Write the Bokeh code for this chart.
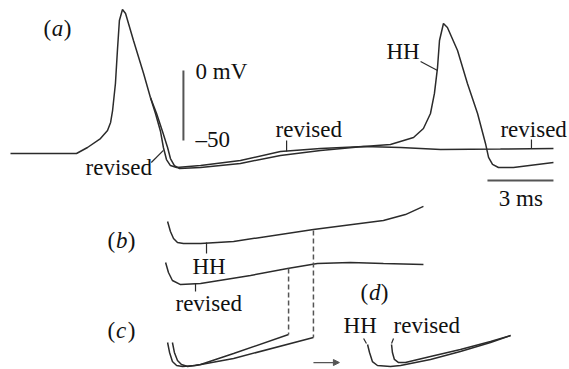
from bokeh.plotting import figure
from bokeh.models import Range1d, ColumnDataSource, Arrow, NormalHead
from bokeh.embed import file_html
from bokeh.resources import INLINE

# ---------------- data (time in ms, membrane potential in mV) ----------------
# panel (a): shared upstroke of the first spike
shared_t = [0, 3.0, 3.5, 4.09, 4.41, 4.55, 4.64, 4.77, 4.86, 4.95, 5.09, 5.23, 5.59, 6.05, 6.36]
shared_v = [-59.3, -59.3, -55.0, -48.6, -42.9, -37.1, -28.6, -9.3, 14.3, 35.7, 43.6, 40.7, 21.4, -2.1, -19.3]

# panel (a): revised model after the first spike
rev_t = [6.59, 6.82, 6.95, 7.09, 7.27, 7.55, 8.64, 10.45, 12.27, 14.09, 16.05, 17.73, 19.55, 22.27, 24.68]
rev_v = [-30.7, -43.6, -55.0, -63.6, -67.9, -69.3, -67.9, -64.3, -57.9, -55.7, -54.3, -55.0, -56.4, -56.1, -55.7]

# panel (a): HH model after the first spike (fires a second spike)
hh_t = [6.64, 6.91, 7.14, 7.27, 7.45, 7.68, 8.64, 10.45, 12.27, 14.09, 16.05, 17.27, 18.32, 18.77,
        19.09, 19.27, 19.41, 19.5, 19.68, 19.86, 20.32, 20.77, 21.23, 21.59, 21.73, 21.91, 22.18, 22.86, 24.68]
hh_v = [-30.7, -43.6, -55.0, -62.9, -67.9, -70.0, -69.3, -66.4, -60.7, -57.1, -54.3, -52.9, -47.9, -41.4,
        -30.7, -16.4, 2.1, 21.4, 33.6, 30.7, 14.3, -9.3, -30.7, -52.1, -62.1, -67.1, -69.3, -69.3, -65.7]

# panel (b): expanded after-potentials (offset traces)
b_hh_t = [7.14, 7.27, 7.41, 7.59, 7.86, 8.64, 10.14, 13.77, 16.95, 17.95, 18.77]
b_hh_v = [-107.9, -115.0, -120.0, -122.9, -123.6, -123.6, -122.1, -113.6, -107.1, -102.9, -97.1]
b_rev_t = [7.05, 7.18, 7.36, 7.73, 8.64, 10.91, 12.59, 13.95, 15.45, 16.95, 18.77]
b_rev_v = [-137.1, -144.3, -150.0, -152.9, -152.1, -146.4, -141.4, -137.9, -137.1, -137.9, -138.6]

# panel (c): fitted trajectories up to the marked points
c_hh_t = [7.14, 7.23, 7.36, 7.55, 7.82, 8.41, 10.14, 13.77]
c_hh_v = [-194.3, -201.4, -207.9, -210.7, -211.4, -210.7, -205.7, -190.7]
c_rev_t = [7.36, 7.45, 7.59, 7.77, 8.05, 8.64, 10.14, 12.64]
c_rev_v = [-194.3, -201.4, -207.1, -210.0, -211.4, -210.0, -202.1, -188.6]

# panel (d): shifted trajectories
d_hh_t = [16.23, 16.32, 16.45, 16.68, 17.27, 17.73, 19.09, 20.45, 21.82, 22.73]
d_hh_v = [-195.7, -201.4, -207.9, -210.7, -211.4, -210.7, -206.4, -200.7, -194.3, -189.3]
d_rev_t = [17.32, 17.36, 17.45, 17.64, 17.95, 19.09, 20.45, 21.82, 22.73]
d_rev_v = [-195.7, -201.4, -206.4, -208.6, -208.6, -204.3, -199.3, -193.6, -189.3]

# dashed connectors (b -> c)
dash_t = [[13.77, 13.77], [12.64, 12.64]]
dash_v = [[-114.3, -190.7], [-141.4, -188.6]]

# pointer lines from labels to traces
ptr_t = [[6.40, 6.95], [12.55, 12.55], [23.68, 23.68], [18.64, 19.41],
         [8.91, 8.91], [8.41, 8.41], [16.05, 16.18], [17.41, 17.32]]
ptr_v = [[-65.7, -57.0], [-50.0, -57.9], [-49.3, -55.7], [6.4, 0.0],
         [-122.9, -130.7], [-152.1, -157.9], [-191.4, -195.0], [-191.4, -195.0]]

# scale bars: 50 mV and 3 ms
vbar_t = [7.86, 7.86]
vbar_v = [0, -50]
hbar_t = [21.68, 24.68]
hbar_v = [-78.6, -78.6]

# text labels
lab_text = ["0 mV", "\u201350", "revised", "revised", "revised", "HH", "3 ms",
            "HH", "revised", "HH", "revised"]
lab_t = [8.41, 8.41, 3.41, 12.05, 22.27, 17.09, 23.2, 8.27, 7.5, 15.14, 17.41]
lab_v = [-0.7, -49.3, -69.3, -42.1, -42.1, 13.6, -91.4, -140.0, -166.4, -182.1, -182.1]
lab_align = ["left", "left", "left", "left", "left", "left", "center", "left", "left", "left", "left"]

# panel letters
panel_letter = ["a", "b", "c", "d"]
panel_t = [1.5, 4.41, 4.41, 15.91]
panel_v = [30.0, -121.4, -185.7, -158.6]

# arrow (c -> d)
arrow_t = [13.77, 14.95]
arrow_v = [-208.6, -208.6]

# ---------------- figure ----------------
W, H = 569, 369
p = figure(width=W, height=H, output_backend="svg", toolbar_location=None,
           x_range=Range1d(-10 / 22, 559 / 22), y_range=Range1d((70 - 369) / 1.4, 70 / 1.4),
           min_border=0)
p.axis.visible = False
p.grid.visible = False
p.outline_line_color = None
p.background_fill_color = "white"
p.border_fill_color = "white"

TR = "#2b2b2b"
LW = 1.5
FONT = "Liberation Serif"
FS = "23px"

p.line(shared_t, shared_v, line_color=TR, line_width=LW)
p.line([shared_t[-1]] + rev_t, [shared_v[-1]] + rev_v, line_color=TR, line_width=LW)
p.line([shared_t[-1]] + hh_t, [shared_v[-1]] + hh_v, line_color=TR, line_width=LW)

for tt, vv in [(b_hh_t, b_hh_v), (b_rev_t, b_rev_v), (c_hh_t, c_hh_v), (c_rev_t, c_rev_v),
               (d_hh_t, d_hh_v), (d_rev_t, d_rev_v)]:
    p.line(tt, vv, line_color=TR, line_width=LW)

p.multi_line(dash_t, dash_v, line_color="#555555", line_width=1.5, line_dash="5 3")
p.multi_line(ptr_t, ptr_v, line_color=TR, line_width=1.2)

p.line(vbar_t, vbar_v, line_color="#555555", line_width=2)
p.line(hbar_t, hbar_v, line_color="#555555", line_width=2)

p.add_layout(Arrow(end=NormalHead(size=6, fill_color="#555555", line_color="#555555"),
                   x_start=arrow_t[0], y_start=arrow_v[0], x_end=arrow_t[1], y_end=arrow_v[1],
                   line_color="#555555", line_width=1.2))

src = ColumnDataSource(dict(x=lab_t, y=lab_v, text=lab_text, align=lab_align))
p.text(x="x", y="y", text="text", source=src, text_align="align", text_baseline="alphabetic",
       text_font=FONT, text_font_size=FS, text_color="#111111")

# panel labels: upright parentheses, italic letter
open_t = [t for t in panel_t]
let_t = [t + 0.38 for t in panel_t]
close_t = [t + 0.92 for t in panel_t]
p.text(x=open_t, y=panel_v, text=["("] * 4, text_align="left", text_baseline="alphabetic",
       text_font=FONT, text_font_size=FS, text_color="#111111")
p.text(x=let_t, y=panel_v, text=panel_letter, text_align="left", text_baseline="alphabetic",
       text_font=FONT, text_font_size=FS, text_font_style="italic", text_color="#111111")
p.text(x=close_t, y=panel_v, text=[")"] * 4, text_align="left", text_baseline="alphabetic",
       text_font=FONT, text_font_size=FS, text_color="#111111")

open("out.html", "w").write(file_html(p, INLINE))
